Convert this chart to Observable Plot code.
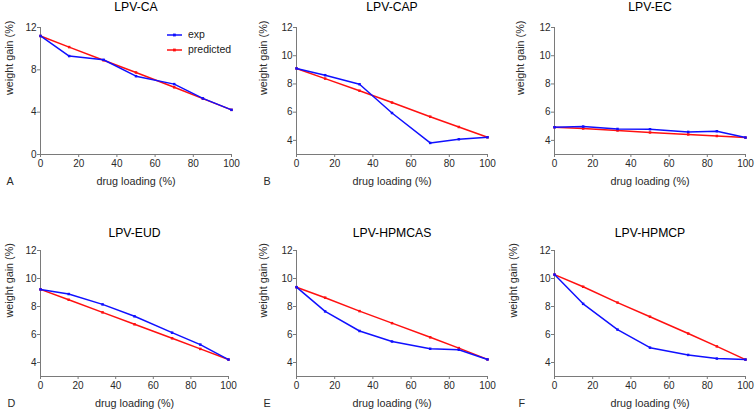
<!DOCTYPE html>
<html><head><meta charset="utf-8">
<script src="https://cdn.jsdelivr.net/npm/d3@7"></script>
<script src="https://cdn.jsdelivr.net/npm/@observablehq/plot@0.6"></script>
<style>
body{margin:0;background:#fff;}
#wrap{position:relative;width:755px;height:411px;font-family:"Liberation Sans",Arial,sans-serif;overflow:hidden;}
#wrap svg{position:absolute;}
.leg{position:absolute;font-size:10.5px;color:#222;line-height:15px;}
.leg div{display:flex;align-items:center;height:15px;}
.leg svg{position:static !important;margin-right:5px;}
</style></head><body><div id="wrap"></div>
<script>
const loadings = [0, 15, 33, 50, 70, 85, 100];
const titles = ["LPV-CA", "LPV-CAP", "LPV-EC", "LPV-EUD", "LPV-HPMCAS", "LPV-HPMCP"];
const letters = ["A", "B", "", "D", "E", "F"];
const seriesNames = ["exp", "predicted"];
const xTicks = [0, 20, 40, 60, 80, 100];
const yTicksA = [0, 4, 8, 12];
const yTicksOther = [4, 6, 8, 10, 12];

const expCA = [11.2, 9.3, 8.95, 7.4, 6.65, 5.3, 4.22];
const predCA = [11.2, 10.15, 8.9, 7.75, 6.35, 5.28, 4.22];
const expCAP = [9.1, 8.62, 7.98, 5.94, 3.82, 4.08, 4.22];
const predCAP = [9.1, 8.38, 7.52, 6.68, 5.68, 4.95, 4.22];
const expEC = [4.93, 4.98, 4.81, 4.79, 4.6, 4.65, 4.2];
const predEC = [4.93, 4.84, 4.7, 4.56, 4.42, 4.31, 4.2];
const expEUD = [9.22, 8.89, 8.15, 7.3, 6.13, 5.28, 4.21];
const predEUD = [9.22, 8.48, 7.58, 6.73, 5.73, 4.97, 4.21];
const expHPMCAS = [9.38, 7.65, 6.25, 5.5, 4.98, 4.91, 4.22];
const predHPMCAS = [9.38, 8.63, 7.67, 6.81, 5.8, 5.03, 4.22];
const expHPMCP = [10.28, 8.19, 6.35, 5.06, 4.54, 4.28, 4.21];
const predHPMCP = [10.28, 9.41, 8.28, 7.27, 6.07, 5.15, 4.21];

const expAll = [expCA, expCAP, expEC, expEUD, expHPMCAS, expHPMCP];
const predAll = [predCA, predCAP, predEC, predEUD, predHPMCAS, predHPMCP];

const blue = "#1010ff", red = "#ff1010", axisGray = "#7a7a7a", textCol = "#2a2a2a";

const layout = [
  {left:0,   top:0,   width:250, height:205, mt:27, mb:51, ml:40, mr:19, titleDy:-20,   letterX:6,  ylabX:9},
  {left:250, top:0,   width:250, height:205, mt:27, mb:51, ml:46, mr:13, titleDy:-20,   letterX:13, ylabX:13},
  {left:500, top:0,   width:255, height:205, mt:27, mb:51, ml:54, mr:10, titleDy:-20,   letterX:13, ylabX:20},
  {left:0,   top:205, width:250, height:206, mt:45, mb:35, ml:40, mr:22, titleDy:-17.5, letterX:7,  ylabX:9},
  {left:250, top:205, width:250, height:206, mt:45, mb:35, ml:46, mr:13, titleDy:-17.5, letterX:13, ylabX:13},
  {left:500, top:205, width:255, height:206, mt:45, mb:35, ml:54, mr:10, titleDy:-17.5, letterX:18, ylabX:13}
];

const wrap = document.getElementById("wrap");

titles.forEach((title, i) => {
  const L = layout[i];
  const yMin = i === 0 ? 0 : 3;
  const yTicks = i === 0 ? yTicksA : yTicksOther;
  const expData = loadings.map((x, j) => ({x, y: expAll[i][j]}));
  const predData = loadings.map((x, j) => ({x, y: predAll[i][j]}));
  const marks = [
    Plot.ruleX([0], {stroke: axisGray, strokeWidth: 1}),
    Plot.ruleY([yMin], {stroke: axisGray, strokeWidth: 1}),
    Plot.axisX({ticks: xTicks, tickSize: 3, tickPadding: 2, stroke: axisGray, fill: textCol, fontSize: 10, label: null}),
    Plot.axisY({ticks: yTicks, tickSize: 3, tickPadding: 1, stroke: axisGray, fill: textCol, fontSize: 10, label: null}),
    Plot.line(predData, {x: "x", y: "y", stroke: red, strokeWidth: 1.5}),
    Plot.dot(predData, {x: "x", y: "y", symbol: "square", r: 1.4, fill: red, stroke: "none"}),
    Plot.line(expData, {x: "x", y: "y", stroke: blue, strokeWidth: 1.5}),
    Plot.dot(expData, {x: "x", y: "y", symbol: "square", r: 1.4, fill: blue, stroke: "none"}),
    Plot.text([title], {text: d => d, frameAnchor: "top", dy: L.titleDy, lineAnchor: "middle", fontSize: 12.2, fontWeight: "normal", fill: "#000"}),
    Plot.text(["drug loading (%)"], {text: d => d, frameAnchor: "bottom", dy: 27.5, lineAnchor: "middle", fontSize: 10.8, fontWeight: "normal", fill: textCol}),
    Plot.text(["weight gain (%)"], {text: d => d, frameAnchor: "left", dx: L.ylabX - L.ml, dy: 4, rotate: -90, lineAnchor: "middle", fontSize: 10.8, fontWeight: "normal", fill: textCol})
  ];
  if (letters[i]) {
    marks.push(Plot.text([letters[i]], {text: d => d, frameAnchor: "bottom-left", dx: L.letterX - L.ml, dy: 27.5, textAnchor: "start", lineAnchor: "middle", fontSize: 10.8, fontWeight: "normal", fill: textCol}));
  }
  const svg = Plot.plot({
    width: L.width, height: L.height,
    marginTop: L.mt, marginBottom: L.mb, marginLeft: L.ml, marginRight: L.mr,
    x: {domain: [0, 100]},
    y: {domain: [yMin, 12]},
    style: {fontFamily: "'Liberation Sans', Arial, sans-serif", fontSize: "10px", background: "transparent", overflow: "visible", color: textCol},
    marks
  });
  svg.style.left = L.left + "px";
  svg.style.top = L.top + "px";
  wrap.appendChild(svg);
});

// legend for panel A
const leg = document.createElement("div");
leg.className = "leg";
leg.style.left = "166px";
leg.style.top = "27px";
[[seriesNames[0], blue], [seriesNames[1], red]].forEach(([name, col]) => {
  const row = document.createElement("div");
  row.innerHTML = `<svg width="17" height="8"><line x1="1" y1="4" x2="16" y2="4" stroke="${col}" stroke-width="1.5"/><rect x="7" y="2.6" width="2.8" height="2.8" fill="${col}"/></svg><span>${name}</span>`;
  leg.appendChild(row);
});
wrap.appendChild(leg);
</script></body></html>
